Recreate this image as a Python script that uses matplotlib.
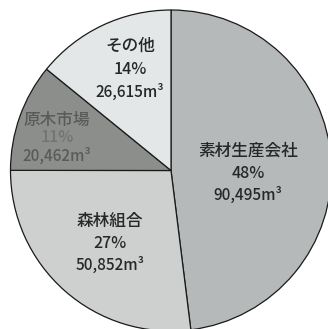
import matplotlib.pyplot as plt
import matplotlib

matplotlib.use('agg')
plt.rcParams['font.family'] = ['Noto Sans CJK JP', 'DejaVu Sans']

# 出荷先別の素材出荷量 (m3)
categories = ['素材生産会社', '森林組合', '原木市場', 'その他']
volumes = [90495, 50852, 20462, 26615]
percents = [48, 27, 11, 14]

colors = ['#b5b9b9', '#cdd0cf', '#8c8e8c', '#e4e7e7']
text_colors = [('#262828', '#262828'), ('#262828', '#262828'),
               ('#595b59', '#727472'), ('#262828', '#262828')]
# ラベルの位置 (画像の左上からのピクセル, 中央の行) と行間
label_pos = [(248, 173), (110, 243), (57, 138), (130, 69)]
line_gap = [22, 22, 18, 23]

W, H = 328, 329


def draw_pie(path):
    fig = plt.figure(figsize=(W / 100, H / 100), dpi=100)
    ax = fig.add_axes([0, 0, 1, 1])

    ax.pie(volumes, colors=colors, startangle=90, counterclock=False,
           center=(171, H - 170.5), radius=160.5,
           wedgeprops=dict(edgecolor='#1a1a1a', linewidth=0.9))

    # pie() が軸範囲を決めるので後から上書き
    ax.set_xlim(0, W)
    ax.set_ylim(0, H)
    ax.set_aspect('equal')
    ax.axis('off')

    for i, name in enumerate(categories):
        x, y = label_pos[i]
        gap = line_gap[i]
        name_color, num_color = text_colors[i]
        ax.text(x, H - (y - gap), name, ha='center', va='center',
                fontsize=12, color=name_color, fontweight='medium')
        ax.text(x, H - y, f'{percents[i]}%', ha='center', va='center',
                fontsize=11.5, color=num_color, fontweight='medium')
        ax.text(x, H - (y + gap), f'{volumes[i]:,}m³', ha='center', va='center',
                fontsize=11, color=name_color, fontweight='medium')

    fig.savefig(path, dpi=100)
    plt.close(fig)


draw_pie('out.png')
